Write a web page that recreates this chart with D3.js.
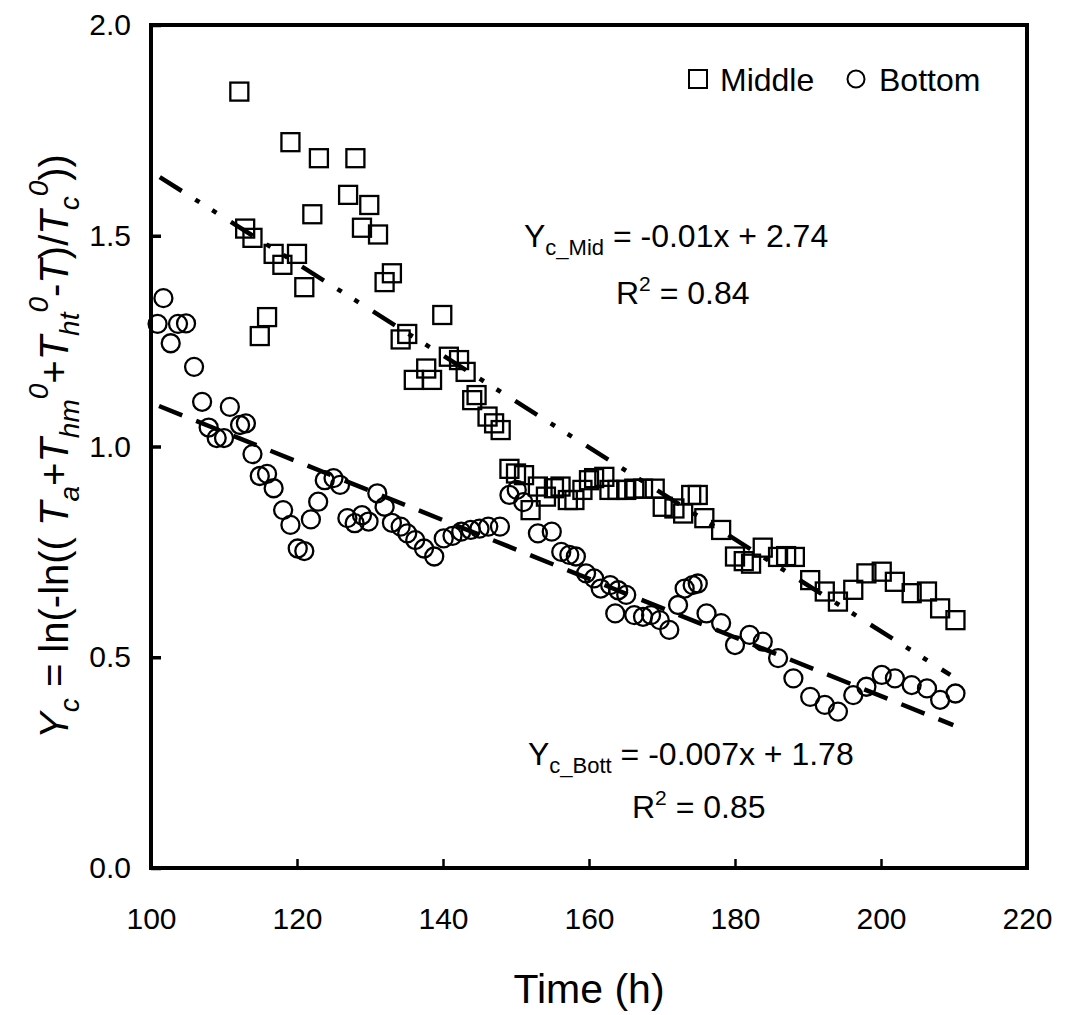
<!DOCTYPE html>
<html>
<head>
<meta charset="utf-8">
<script src="https://cdn.jsdelivr.net/npm/d3@7"></script>
<style>
  body { margin: 0; background: #fff; }
  svg { display: block; font-family: "Liberation Sans", Arial, Helvetica, sans-serif; }
</style>
</head>
<body>
<div id="graph"></div>
<script>
// values
const midTime = [112.1,112.9,113.9,114.9,115.9,116.8,118.0,119.1,120.0,121.0,122.1,123.0,127.0,128.0,128.9,129.9,131.1,132.0,133.0,134.2,135.1,136.0,137.7,138.5,139.9,140.8,142.2,143.1,144.0,144.6,146.1,147.0,147.9,149.1,150.0,151.1,152.0,153.0,154.1,155.2,156.1,157.1,158.0,159.1,160.0,160.7,162.1,162.8,163.9,165.1,166.2,167.4,169.0,170.1,171.7,172.9,174.0,174.9,175.8,178.1,180.0,181.2,182.2,183.8,185.9,187.0,188.2,190.3,192.3,194.1,196.2,198.0,200.1,201.9,204.2,206.3,208.1,210.2]
const midYc = [1.842,1.517,1.495,1.262,1.307,1.457,1.431,1.722,1.457,1.378,1.551,1.684,1.597,1.684,1.519,1.573,1.503,1.390,1.411,1.254,1.267,1.158,1.185,1.158,1.312,1.213,1.205,1.177,1.110,1.122,1.071,1.055,1.039,0.947,0.936,0.932,0.849,0.905,0.881,0.901,0.905,0.873,0.873,0.897,0.920,0.925,0.928,0.897,0.897,0.897,0.900,0.900,0.900,0.857,0.853,0.841,0.885,0.885,0.830,0.802,0.739,0.728,0.722,0.760,0.738,0.740,0.738,0.683,0.656,0.632,0.660,0.699,0.703,0.679,0.652,0.656,0.616,0.588]

const botTime = [100.9,101.7,102.7,103.7,104.8,105.9,107.0,107.9,109.0,110.0,110.8,112.2,113.0,113.9,114.9,115.9,116.8,118.1,119.1,120.1,121.0,121.9,122.9,123.8,125.0,125.9,126.9,127.9,128.9,129.8,131.0,132.0,133.0,134.2,135.1,136.2,137.4,138.8,140.1,141.3,142.5,143.8,145.0,146.2,147.8,149.1,150.1,151.0,153.0,154.9,156.2,157.3,158.2,159.6,160.7,161.6,162.9,163.6,164.0,165.1,166.2,167.4,168.5,169.7,171.0,172.2,173.1,174.2,174.9,176.1,178.1,180.0,182.0,183.8,185.9,188.0,190.3,192.3,194.1,196.2,198.0,200.1,201.9,204.2,206.3,208.1,210.2]
const botYc = [1.291,1.352,1.245,1.291,1.292,1.189,1.106,1.045,1.020,1.020,1.094,1.051,1.055,0.982,0.930,0.935,0.901,0.849,0.814,0.758,0.752,0.827,0.869,0.920,0.925,0.909,0.830,0.818,0.837,0.822,0.889,0.857,0.819,0.810,0.794,0.778,0.758,0.739,0.782,0.788,0.798,0.802,0.805,0.810,0.810,0.885,0.897,0.868,0.794,0.798,0.750,0.743,0.739,0.699,0.687,0.663,0.671,0.604,0.659,0.648,0.600,0.596,0.600,0.588,0.565,0.624,0.663,0.671,0.675,0.604,0.581,0.529,0.553,0.537,0.498,0.450,0.406,0.387,0.371,0.410,0.430,0.458,0.450,0.434,0.426,0.399,0.414]

// regression lines, end points as drawn
const midFit = [[101.2, 1.639], [209.5, 0.458]]
const botFit = [[101.1, 1.096], [209.9, 0.339]]

const xTicks = [100, 120, 140, 160, 180, 200, 220]
const yTicks = [0.0, 0.5, 1.0, 1.5, 2.0]

// Setting up the svg and scales
const total_width = 1068
const total_height = 1015
const plot = { left: 151, right: 1027, top: 25, bottom: 868 }

const svg = d3.select('#graph').append('svg')
  .attr('width', total_width)
  .attr('height', total_height)

const x = d3.scaleLinear().domain([100, 220]).range([plot.left, plot.right])
const y = d3.scaleLinear().domain([0, 2]).range([plot.bottom, plot.top])

// Axes with ticks pointing inwards
const xAxis = svg.append('g')
  .attr('transform', `translate(0, ${plot.bottom})`)
  .call(d3.axisBottom(x).tickValues(xTicks).tickFormat(d3.format('d'))
    .tickSizeInner(-9).tickSizeOuter(0).tickPadding(40))
xAxis.select('.domain').remove()
xAxis.selectAll('line').attr('stroke-width', 2.5)
xAxis.selectAll('text').attr('font-size', 30).attr('fill', '#000')
  .attr('font-family', '"Liberation Sans", Arial, sans-serif')

const yAxis = svg.append('g')
  .attr('transform', `translate(${plot.left}, 0)`)
  .call(d3.axisLeft(y).tickValues(yTicks).tickFormat(d3.format('.1f'))
    .tickSizeInner(-10).tickSizeOuter(0).tickPadding(20))
yAxis.select('.domain').remove()
yAxis.selectAll('line').attr('stroke-width', 3.5)
yAxis.selectAll('text').attr('font-size', 30).attr('fill', '#000')
  .attr('font-family', '"Liberation Sans", Arial, sans-serif')

// frame
svg.append('rect')
  .attr('x', plot.left).attr('y', plot.top)
  .attr('width', plot.right - plot.left).attr('height', plot.bottom - plot.top)
  .attr('fill', 'none').attr('stroke', '#000').attr('stroke-width', 4)

// fit lines
const lineGen = d3.line().x(d => x(d[0])).y(d => y(d[1]))
svg.append('path').attr('d', lineGen(midFit))
  .attr('fill', 'none').attr('stroke', '#000').attr('stroke-width', 4.5)
  .attr('stroke-dasharray', '26,16,5,15,5,17')
svg.append('path').attr('d', lineGen(botFit))
  .attr('fill', 'none').attr('stroke', '#000').attr('stroke-width', 4.5)
  .attr('stroke-dasharray', '25,15')

// markers
const sq = 18
const middle = midTime.map((t, i) => ({ t: t, v: midYc[i] }))
const bottom = botTime.map((t, i) => ({ t: t, v: botYc[i] }))

svg.append('g').selectAll('rect').data(middle).join('rect')
  .attr('x', d => x(d.t) - sq / 2).attr('y', d => y(d.v) - sq / 2)
  .attr('width', sq).attr('height', sq)
  .attr('fill', 'none').attr('stroke', '#000').attr('stroke-width', 2.3)

svg.append('g').selectAll('circle').data(bottom).join('circle')
  .attr('cx', d => x(d.t)).attr('cy', d => y(d.v)).attr('r', 9)
  .attr('fill', 'none').attr('stroke', '#000').attr('stroke-width', 2.3)

// legend
const legend = svg.append('g').attr('font-size', 32)
legend.append('rect').attr('x', 689).attr('y', 70).attr('width', 18).attr('height', 18)
  .attr('fill', 'none').attr('stroke', '#000').attr('stroke-width', 2)
legend.append('text').attr('x', 720).attr('y', 91).text('Middle')
legend.append('circle').attr('cx', 856).attr('cy', 79).attr('r', 8.5)
  .attr('fill', 'none').attr('stroke', '#000').attr('stroke-width', 2)
legend.append('text').attr('x', 879).attr('y', 91).text('Bottom')

// equations
function equation(xPos, yPos, sub, rest) {
  const t = svg.append('text').attr('x', xPos).attr('y', yPos).attr('font-size', 32)
  t.append('tspan').text('Y')
  t.append('tspan').attr('font-size', 22).attr('dy', 8).text(sub)
  t.append('tspan').attr('dy', -8).text(' ' + rest)
}
function rsq(xPos, yPos, val) {
  const t = svg.append('text').attr('x', xPos).attr('y', yPos).attr('font-size', 32)
  t.append('tspan').text('R')
  t.append('tspan').attr('font-size', 21).attr('dy', -13).text('2')
  t.append('tspan').attr('dy', 13).text(' = ' + val)
}
equation(524, 247, 'c_Mid', '= -0.01x + 2.74')
rsq(616, 304, '0.84')
equation(528, 765, 'c_Bott', '= -0.007x + 1.78')
rsq(632, 818, '0.85')

// axis titles
svg.append('text')
  .attr('x', (plot.left + plot.right) / 2).attr('y', 1003)
  .attr('text-anchor', 'middle').attr('font-size', 41)
  .text('Time (h)')

const yParts = [
  ['Y', 'i', ''], ['c', 'i', 'sub'], [' = ln(-ln(( ', '', ''],
  ['T', 'i', ''], ['a', 'i', 'sub'], ['+', '', ''],
  ['T', 'i', ''], ['hm', 'i', 'sub'], ['0', 'i', 'sup'], ['+', '', ''],
  ['T', 'i', ''], ['ht', 'i', 'sub'], ['0', 'i', 'sup'], ['-', '', ''],
  ['T', 'i', ''], [')/', '', ''],
  ['T', 'i', ''], ['c', 'i', 'sub'], ['0', 'i', 'sup'], ['))', '', '']
]
const fs = 40
const yTitle = svg.append('text')
  .attr('transform', `translate(68, ${(plot.top + plot.bottom) / 2}) rotate(-90)`)
  .attr('text-anchor', 'middle').attr('font-size', fs)
let shift = 0
yParts.forEach(p => {
  const target = p[2] === 'sub' ? fs * 0.28 : p[2] === 'sup' ? -fs * 0.5 : 0
  yTitle.append('tspan')
    .attr('dy', target - shift)
    .attr('font-size', p[2] ? fs * 0.7 : fs)
    .attr('font-style', p[1] === 'i' ? 'italic' : 'normal')
    .text(p[0])
  shift = target
})
</script>
</body>
</html>
